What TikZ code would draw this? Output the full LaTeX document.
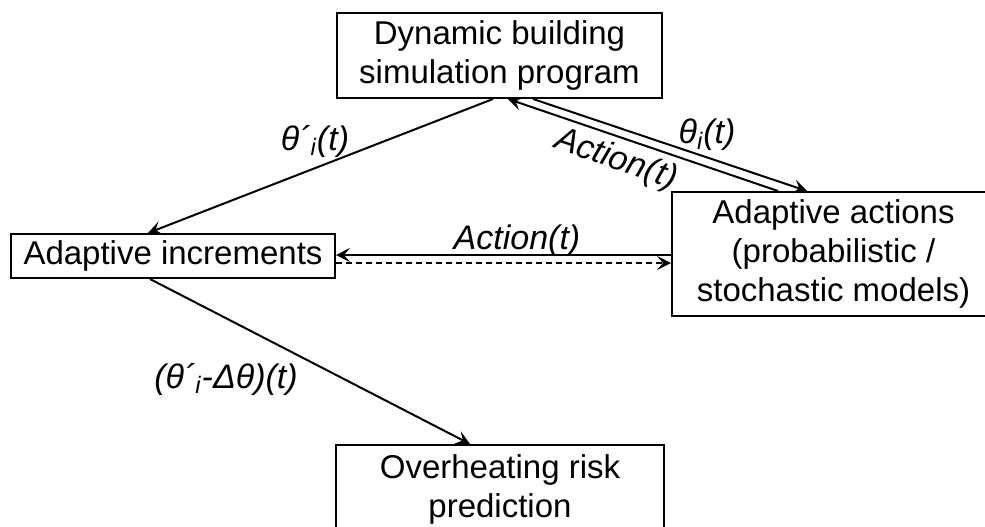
\documentclass[tikz,border=0pt]{standalone}
\usepackage{fontspec}
\setmainfont{Liberation Sans}
\usetikzlibrary{arrows.meta,calc}

\tikzset{
  block/.style={draw, line width=1pt, align=center, inner sep=0pt,
    font=\fontsize{16.5}{19.5}\selectfont},
  flow/.style={line width=1pt, -{Stealth[length=7pt,width=7pt,inset=3pt]}},
  lbl/.style={font=\fontsize{17}{20}\selectfont\itshape, inner sep=0pt},
}

\begin{document}
\begin{tikzpicture}[x=0.5pt,y=-0.5pt]
\useasboundingbox (0,0) rectangle (985,526);
% boxes
\node[block, minimum width=162.5pt, minimum height=42.5pt] (sim) at (499.5,55.5) {Dynamic building\\simulation program};
\node[block, minimum width=162pt, minimum height=22pt] (incr) at (173,256) {Adaptive increments};
\node[block, minimum width=161.5pt, minimum height=62pt] (act) at (833.5,254) {Adaptive actions\\(probabilistic /\\stochastic models)};
\node[block, minimum width=164pt, minimum height=44pt] (risk) at (500,489) {Overheating risk\\prediction};
% connectors
\draw[flow] ($(sim.south)+(-6.5,0)$) -- ($(incr.north)+(-25,0)$);
\draw[flow] ($(sim.south)+(33.5,0)$) -- ($(act.north)+(-26.5,0)$);
\draw[flow] ($(act.north)+(-55.5,0)$) -- ($(sim.south)+(8.5,0)$);
\draw[flow] ($(act.west)+(0,1)$) -- ($(incr.east)+(0,-1)$);
\draw[flow, line width=0.6pt, dash pattern=on 3pt off 2pt] ($(incr.east)+(0,7)$) -- ($(act.west)+(0,9)$);
\draw[flow] ($(incr.south)+(-23,0)$) -- ($(risk.north)+(-30,0)$);
% labels
\node[lbl] (lsim) at (315,141) {θ´\textsubscript{i}(t)};
\node[lbl] (ltheta) at (707,135) {θ\textsubscript{i}(t)};
\node[lbl, rotate=-19] (lact) at (616,160) {Action(t)};
\node[lbl] (lhor) at (517,241) {Action(t)};
\node[lbl] (lrisk) at (226,379) {(θ´\textsubscript{i}-Δθ)(t)};
\end{tikzpicture}
\end{document}
